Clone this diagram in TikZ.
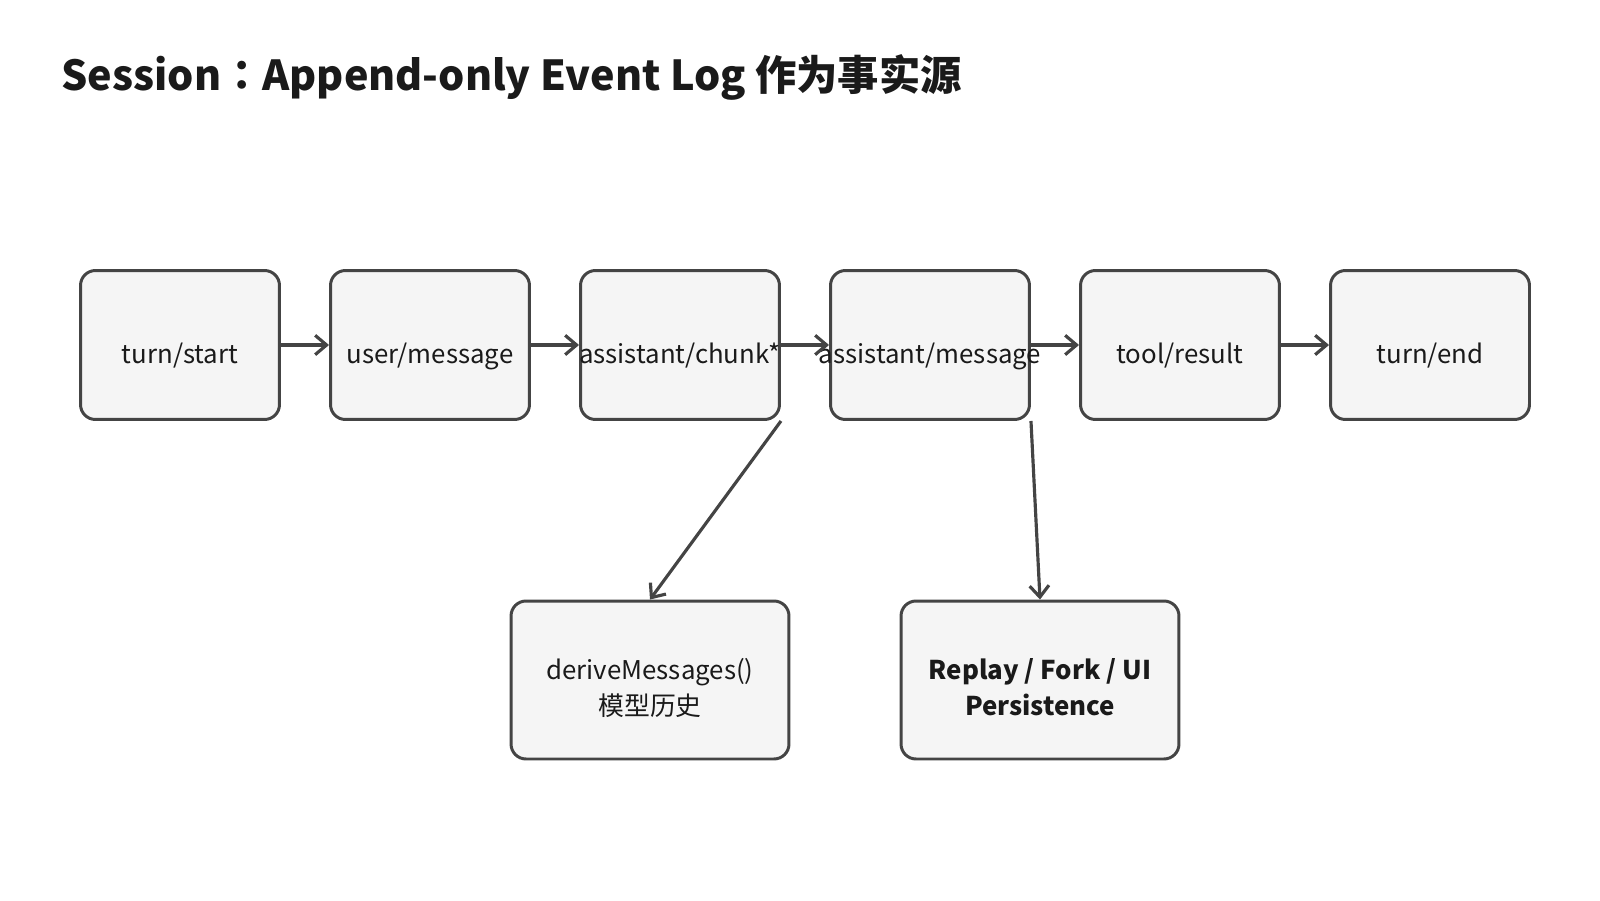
\documentclass[tikz,border=0pt]{standalone}
\usepackage{fontspec}
\setmainfont{Noto Sans CJK JP}
\usepackage{xcolor}
\usepackage{tikz}
\usetikzlibrary{arrows.meta}
\definecolor{edge}{HTML}{444444}
\definecolor{boxfill}{HTML}{F5F5F5}
\definecolor{ink}{HTML}{1A1A1A}
\tikzset{
  evt/.style={draw=edge, fill=boxfill, line width=1.7pt, rounded corners=8.5pt,
    minimum width=3.98cm, minimum height=2.98cm, inner sep=0pt, text=ink,
    text height=0.84cm, text depth=0.12cm, font=\fontsize{14.7}{20}\selectfont},
  sink/.style={evt, minimum width=5.56cm, minimum height=3.16cm, align=center,
    text height=1.52cm},
  flow/.style={draw=edge, line width=1.8pt, -{Straight Barb[length=6.5pt,width=11pt]}},
  ttl/.style={text=ink, font=\fontsize{23.5}{28}\selectfont\bfseries, anchor=base west, inner sep=0pt},
}

\begin{document}
\begin{tikzpicture}[x=0.02cm, y=-0.02cm]
  \useasboundingbox (0,0) rectangle (1600,900);

  \node[ttl] (title) at (61,90) {Session：Append-only Event Log 作为事实源};

  % the log, left to right
  \node[evt] (tstart) at (180,345) {turn/start};
  \node[evt] (umsg)   at (430,345) {user/message};
  \node[evt] (achunk) at (680,345) {\makebox[0pt]{assistant/chunk*}};
  \node[evt] (amsg)   at (930,345) {\makebox[0pt]{assistant/message}};
  \node[evt] (tres)   at (1180,345) {tool/result};
  \node[evt] (tend)   at (1430,345) {turn/end};

  \draw[flow] (tstart.east) -- (umsg.west);
  \draw[flow] (umsg.east) -- (achunk.west);
  \draw[flow] (achunk.east) -- (amsg.west);
  \draw[flow] (amsg.east) -- (tres.west);
  \draw[flow] (tres.east) -- (tend.west);

  % consumers
  \node[sink] (derive) at (650,680) {deriveMessages()\\模型历史};
  \node[sink] (replay) at (1040,680) {\bfseries Replay / Fork / UI\\\bfseries Persistence};

  \draw[flow] (achunk.south east) -- (derive.north);
  \draw[flow] (amsg.south east) -- (replay.north);
\end{tikzpicture}
\end{document}
